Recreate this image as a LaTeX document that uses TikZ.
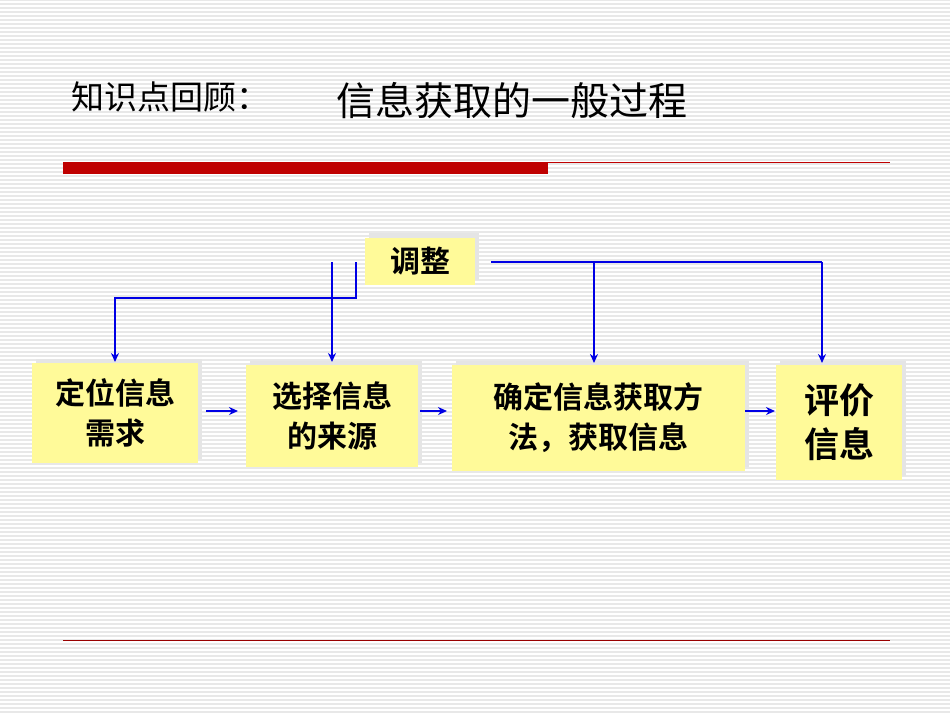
\documentclass[tikz,border=0pt]{standalone}
\usepackage{fontspec}
\usetikzlibrary{arrows.meta}
\newfontfamily\cjk{Noto Sans CJK SC}
\newfontfamily\cjkb{Noto Sans CJK SC Bold}
\begin{document}
\begin{tikzpicture}[x=1pt,y=-1pt,
  box/.style={fill=yellow!40!white,inner sep=0pt,align=center,font=\cjkb\fontsize{30}{40}\selectfont},
  shadow/.style={fill=black!10},
  conn/.style={blue!90!black,line width=2.6pt},
  arr/.style={conn,-{Stealth[length=9pt,width=8pt]}}]
\useasboundingbox (0,0) rectangle (950,713);
\fill[white] (0,0) rectangle (950,713);
\foreach \y in {0,4,...,712} \draw[black!9,line width=1.4pt] (0,\y) -- (950,\y);
% title
\node[anchor=west,font=\cjk\fontsize{33}{36}\selectfont] (t1) at (68,97) {知识点回顾：};
\node[anchor=west,font=\cjk\fontsize{39}{42}\selectfont] (t2) at (333,101) {信息获取的一般过程};
\fill[red!75!black] (63,162) rectangle (548,174);
\draw[red!75!black,line width=0.6pt] (63,162) -- (890,162);
\draw[red!60!black,line width=0.6pt] (63,640) -- (890,640);
% shadows
\fill[shadow] (369,233) rectangle (479,280);
\fill[shadow] (36,359) rectangle (202,459);
\fill[shadow] (250,361) rectangle (422,463);
\fill[shadow] (456,361) rectangle (749,467);
\fill[shadow] (780,361) rectangle (906,476);
% boxes
\node[box,minimum width=110,minimum height=47] (adj) at (420,261) {调整};
\node[box,minimum width=166,minimum height=100] (b1) at (115,413) {定位信息\\需求};
\node[box,minimum width=172,minimum height=102] (b2) at (332,416) {选择信息\\的来源};
\node[box,minimum width=293,minimum height=106] (b3) at (598.5,418) {确定信息获取方\\法，获取信息};
\node[box,minimum width=126,minimum height=115,font=\cjkb\fontsize{35}{44}\selectfont] (b4) at (839,422) {评价\\信息};
% connectors
\coordinate (r0) at (491,262);
\coordinate (r1) at (822,262);
\coordinate (r2) at (594,262);
\coordinate (l1) at (332,262);
\coordinate (l2) at (356,262);
\draw[conn] (r0) -- (r1);
\draw[arr] (r1) -- (822,363);
\draw[arr] (r2) -- (594,363);
\draw[arr] (l1) -- (332,362);
\draw[arr] (l2) -- (356,298) -- (115,298) -- (115,362);
\draw[arr] (206,411) -- (238,411);
\draw[arr] (420,411) -- (447,411);
\draw[arr] (745,411) -- (775,411);
\end{tikzpicture}
\end{document}
